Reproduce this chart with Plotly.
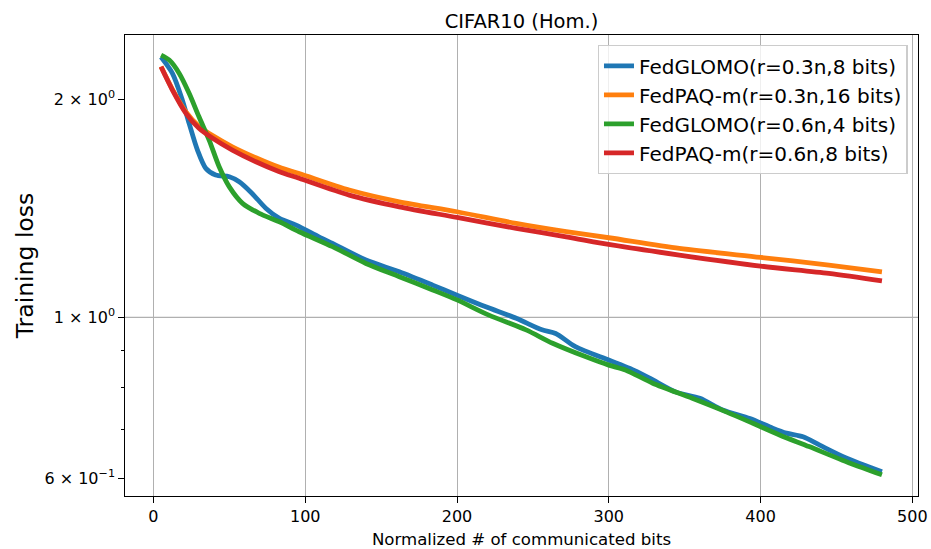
import plotly.graph_objects as go

# Normalized number of communicated bits (x) and training loss (y) per method
glomo_03_x = [5, 12.5, 19, 23.5, 29, 34.5, 41, 50, 56.5, 65, 74, 83, 94, 109, 118, 140, 162, 184,
              200, 219, 239, 256, 265, 278, 300, 314, 327, 344, 360, 375, 393, 408, 417, 428,
              439, 456, 480]
glomo_03_loss = [2.288, 2.172, 1.996, 1.853, 1.702, 1.606, 1.572, 1.564, 1.539, 1.483, 1.415,
                 1.370, 1.341, 1.292, 1.265, 1.200, 1.156, 1.108, 1.073, 1.034, 0.997, 0.961,
                 0.950, 0.911, 0.873, 0.850, 0.824, 0.789, 0.773, 0.745, 0.725, 0.703, 0.692,
                 0.684, 0.666, 0.640, 0.612]

paq_03_x = [5, 12.5, 21.4, 30, 39, 52, 67.5, 83, 96, 129, 162, 200, 239, 272, 300, 346.5, 400,
            445, 480]
paq_03_loss = [2.220, 2.065, 1.922, 1.836, 1.782, 1.720, 1.661, 1.611, 1.580, 1.499, 1.444,
               1.399, 1.348, 1.313, 1.288, 1.245, 1.210, 1.181, 1.156]

glomo_06_x = [5, 10.4, 17, 23.5, 30, 36.7, 43.3, 50, 58.7, 69.7, 83, 96, 118, 140, 162, 184,
              200, 221, 245.5, 263, 285, 300, 311, 329, 355, 377, 395, 412.5, 432, 454, 480]
glomo_06_loss = [2.302, 2.266, 2.172, 2.039, 1.892, 1.757, 1.614, 1.514, 1.437, 1.392, 1.355,
                 1.313, 1.252, 1.187, 1.138, 1.091, 1.057, 1.007, 0.961, 0.921, 0.882, 0.859,
                 0.846, 0.811, 0.773, 0.741, 0.714, 0.688, 0.663, 0.635, 0.606]

paq_06_x = [5, 12.5, 21.4, 30, 39, 52, 67.5, 83, 96, 129, 162, 200, 239, 272, 302, 346.5, 400,
            445, 480]
paq_06_loss = [2.218, 2.060, 1.913, 1.824, 1.767, 1.702, 1.640, 1.589, 1.556, 1.475, 1.421,
               1.374, 1.327, 1.292, 1.259, 1.219, 1.177, 1.150, 1.123]

series_names = ["FedGLOMO(r=0.3n,8 bits)", "FedPAQ-m(r=0.3n,16 bits)",
                "FedGLOMO(r=0.6n,4 bits)", "FedPAQ-m(r=0.6n,8 bits)"]
series_colors = ["#1f77b4", "#ff7f0e", "#2ca02c", "#d62728"]

x_ticks = [0, 100, 200, 300, 400, 500]
y_ticks = [0.6, 1, 2]
y_tick_text = ["6 × 10<sup>−1</sup>", "1 × 10<sup>0</sup>", "2 × 10<sup>0</sup>"]
y_minor_ticks = [0.7, 0.8, 0.9]

FONT = "DejaVu Sans"

fig = go.Figure()
for name, color, xs, ys in zip(series_names, series_colors,
                               [glomo_03_x, paq_03_x, glomo_06_x, paq_06_x],
                               [glomo_03_loss, paq_03_loss, glomo_06_loss, paq_06_loss]):
    fig.add_trace(go.Scatter(x=xs, y=ys, mode="lines", name=name,
                             line=dict(color=color, width=4.8, shape="spline", smoothing=0.8)))

# horizontal grid line at the major decade tick
fig.add_shape(type="line", xref="paper", x0=0, x1=1, yref="y", y0=1, y1=1,
              line=dict(color="#b0b0b0", width=1.3), layer="below")

fig.update_layout(
    width=931, height=549,
    margin=dict(l=125, r=13, t=35, b=53),
    paper_bgcolor="white", plot_bgcolor="white",
    font=dict(family=FONT, color="black", size=16),
    title=dict(text="CIFAR10 (Hom.)", x=0.5, xref="paper", xanchor="center",
               y=1, yref="paper", yanchor="bottom", pad=dict(b=7),
               font=dict(family=FONT, size=19.5, color="black")),
    legend=dict(x=0.987, y=0.978, xanchor="right", yanchor="top",
                bgcolor="rgba(255,255,255,0.8)", bordercolor="#cccccc", borderwidth=1.3,
                font=dict(family=FONT, size=20, color="black"),
                tracegroupgap=0),
    showlegend=True,
)

fig.update_xaxes(
    range=[-18.75, 503.75], tickvals=x_ticks, ticks="outside", ticklen=5.6, tickwidth=1.3,
    tickcolor="black", showline=True, mirror=True, linecolor="black", linewidth=1.3,
    showgrid=True, gridcolor="#b0b0b0", gridwidth=1.3, zeroline=False, automargin=False,
    tickfont=dict(family=FONT, size=16, color="black"),
    title=dict(text="Normalized # of communicated bits", standoff=10,
               font=dict(family=FONT, size=16.6, color="black")),
)

fig.update_yaxes(
    type="log", range=[-0.2467, 0.3899], tickmode="array", tickvals=y_ticks,
    ticktext=y_tick_text, ticks="outside", ticklen=5.6, tickwidth=1.3, tickcolor="black",
    showline=True, mirror=True, linecolor="black", linewidth=1.3, showgrid=False,
    zeroline=False, automargin=False, tickfont=dict(family=FONT, size=16, color="black"),
    minor=dict(tickmode="array", tickvals=y_minor_ticks, ticks="outside", ticklen=3.2,
               tickwidth=1.3, tickcolor="black", showgrid=False),
    title=dict(text="Training loss", standoff=4,
               font=dict(family=FONT, size=23.5, color="black")),
)

fig.write_html("out.html")
